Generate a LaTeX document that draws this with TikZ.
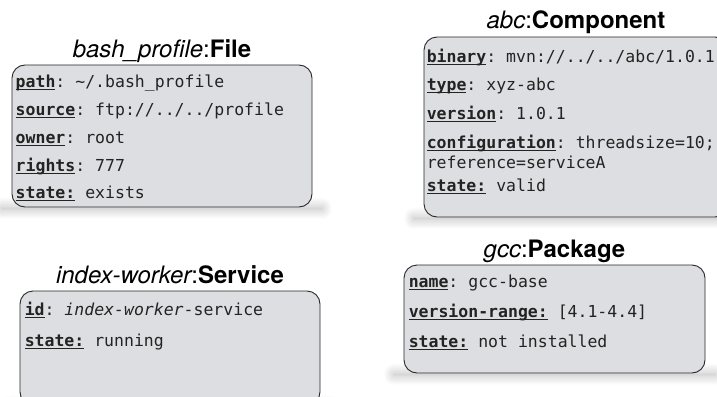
\documentclass[tikz,border=0pt]{standalone}
\usepackage{fontspec}
\setmainfont{TeX Gyre Heros}
\setmonofont{DejaVu Sans Mono}
\usetikzlibrary{positioning,shadows.blur}

\definecolor{boxfill}{RGB}{221,222,225}
\definecolor{boxline}{RGB}{40,40,40}
\definecolor{keycol}{RGB}{35,35,35}
\definecolor{valcol}{RGB}{120,120,120}

\pgfdeclarelayer{bg}
\pgfsetlayers{bg,main}

% underlined attribute key
\newcommand{\attr}[1]{\setbox0\hbox{\bfseries\color{keycol}#1}%
	\rlap{\color{keycol}\rule[-3pt]{\wd0}{1.1pt}}\box0\relax}
\newcommand{\objname}[2]{{\itshape #1}:{\bfseries #2}}

\begin{document}
\begin{tikzpicture}[x=1pt,y=-1pt,
	box/.style={draw=boxline,line width=0.9pt,fill=boxfill,rounded corners=13pt,inner sep=0pt},
	title/.style={font=\fontsize{24}{27}\selectfont,inner sep=0pt,anchor=base},
	attrs/.style={font=\ttfamily\fontsize{16.5}{19}\selectfont,text=valcol,align=left,
		inner sep=0pt,anchor=north west,execute at begin node=\strut},
	shadowband/.style={blur shadow={shadow xshift=0pt,shadow yshift=0pt,
		shadow blur radius=10pt,shadow blur steps=14,shadow opacity=28}}]

\useasboundingbox (0,0) rectangle (717,396);

% the four objects
\node[box,minimum width=300pt,minimum height=142pt] (file) at (162,136) {};
\node[box,minimum width=304pt,minimum height=180pt] (comp) at (576,127) {};
\node[box,minimum width=300pt,minimum height=114pt] (svc) at (170,348) {};
\node[box,minimum width=301pt,minimum height=108pt] (pkg) at (554.5,319) {};

\node[title,above=7pt of file.north,anchor=base] (fileT) {\objname{bash\_profile}{File}};
\node[title,above=8pt of comp.north,anchor=base] (compT) {\objname{abc}{Component}};
\node[title,above=7pt of svc.north,anchor=base] (svcT) {\objname{index-worker}{Service}};
\node[title,above=7pt of pkg.north,anchor=base] (pkgT) {\objname{gcc}{Package}};

\node[attrs] (fileA) at ([xshift=4pt,yshift=-10pt]file.north west)
	{\attr{path}: \textasciitilde/.bash\_profile\\[9pt]
	\attr{source}: ftp://../../profile\\[9pt]
	\attr{owner}: root\\[9pt]
	\attr{rights}: 777\\[8pt]
	\attr{state:} exists};

\node[attrs] (compA) at ([xshift=3pt,yshift=-12pt]comp.north west)
	{\attr{binary}: mvn://../../abc/1.0.1\\[9pt]
	\attr{type}: xyz-abc\\[10pt]
	\attr{version}: 1.0.1\\[10pt]
	\attr{configuration}: threadsize=10;\\[1pt]
	reference=serviceA\\[4pt]
	\attr{state:} valid};

\node[attrs] (svcA) at ([xshift=5pt,yshift=-11pt]svc.north west)
	{\attr{id}: \textit{index-worker}-service\\[12pt]
	\attr{state:} running};

\node[attrs] (pkgA) at ([xshift=5pt,yshift=-10pt]pkg.north west)
	{\attr{name}: gcc-base\\[11pt]
	\attr{version-range:} [4.1-4.4]\\[11pt]
	\attr{state:} not installed};

% soft shadows under the boxes
\begin{pgfonlayer}{bg}
\foreach \b in {file,comp,svc,pkg}
	\path[shadowband] ([xshift=-10pt]\b.south west) rectangle ([xshift=10pt,yshift=-2pt]\b.south east);
\end{pgfonlayer}

\end{tikzpicture}
\end{document}
